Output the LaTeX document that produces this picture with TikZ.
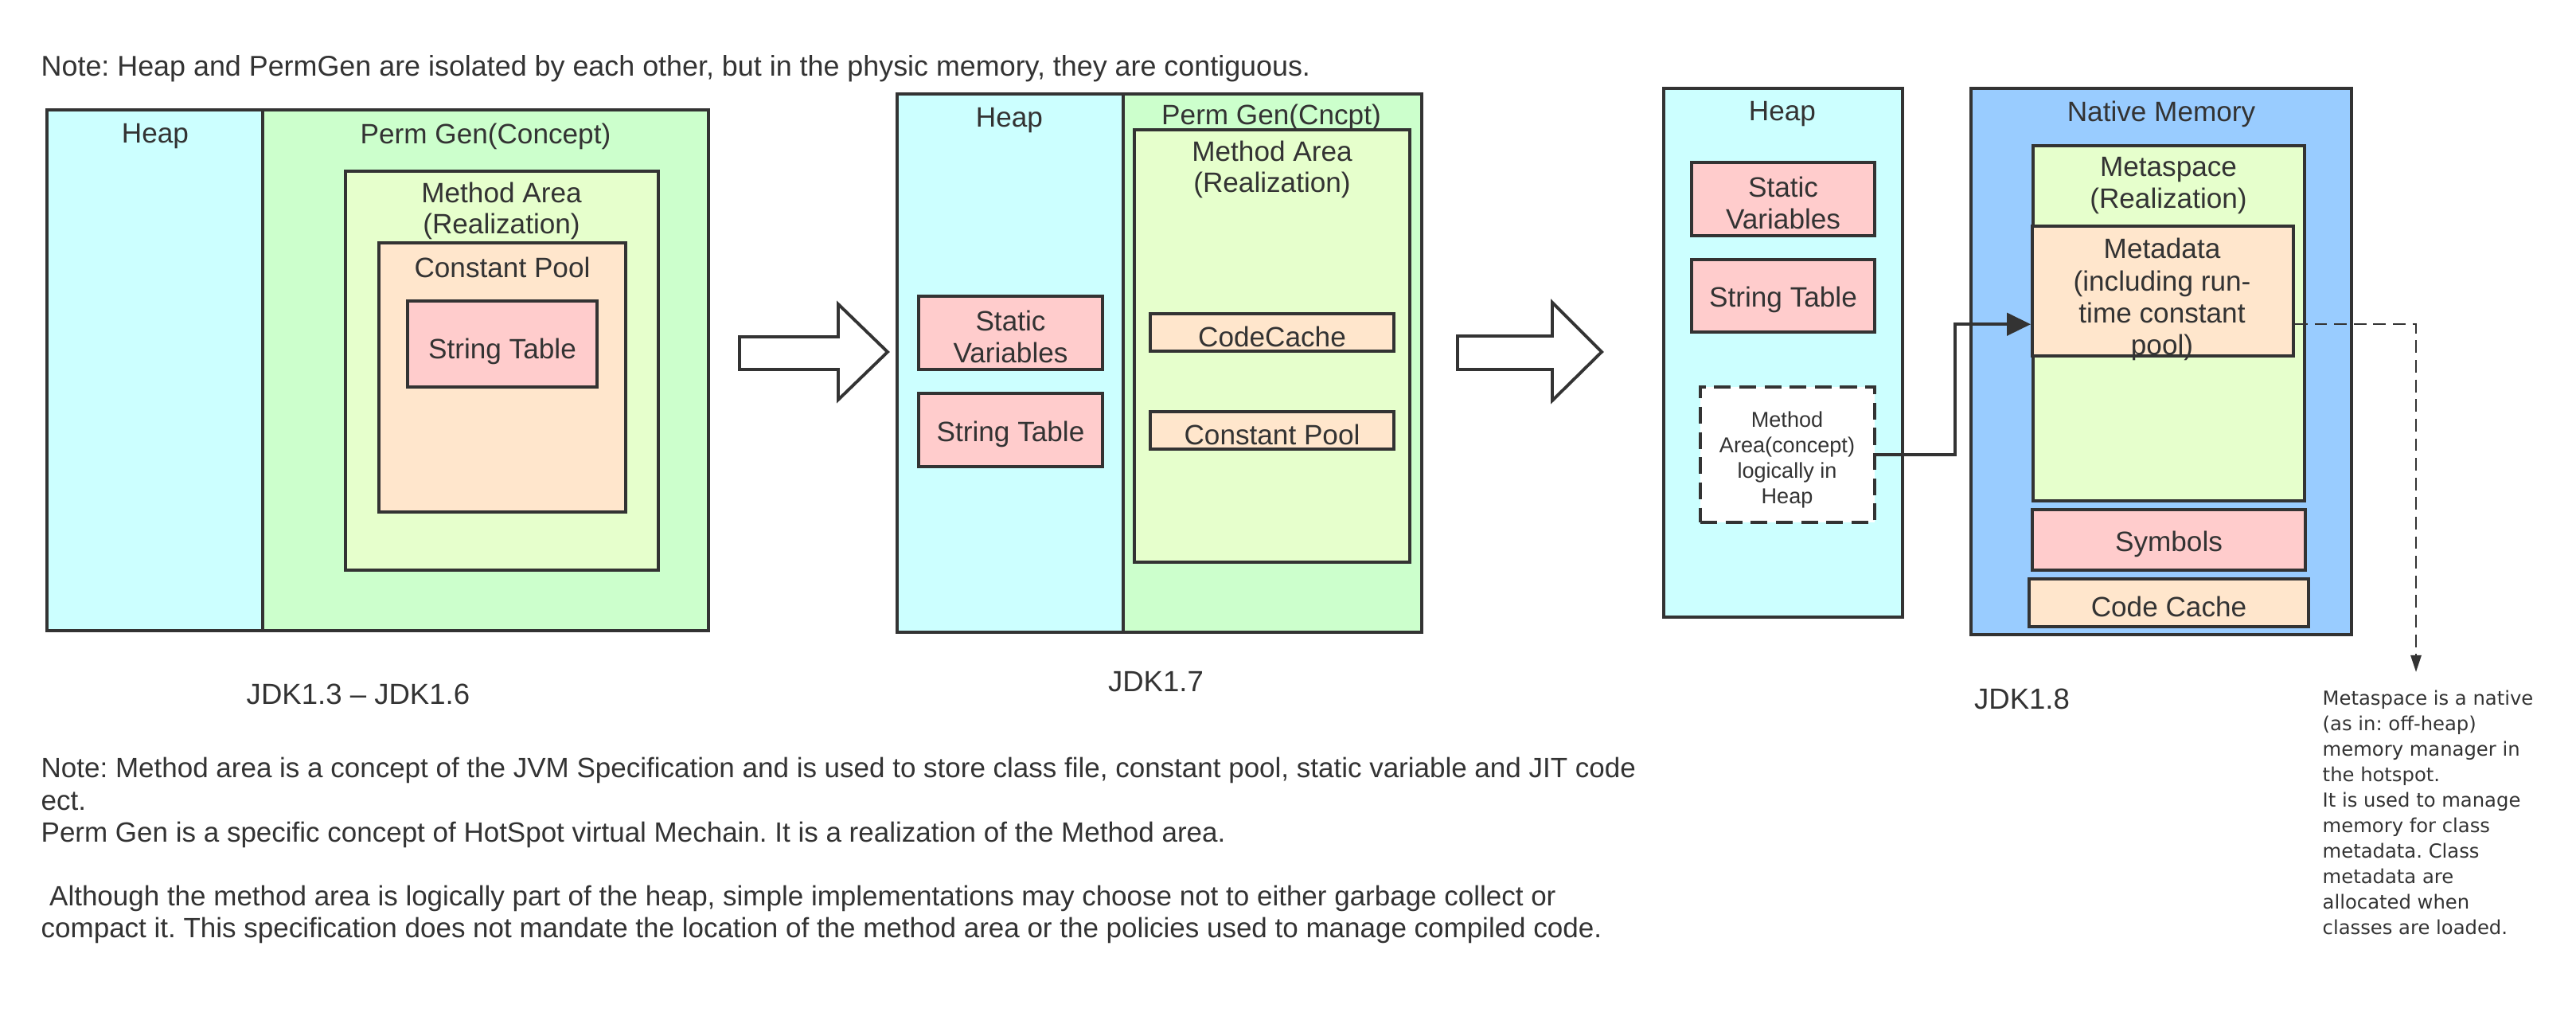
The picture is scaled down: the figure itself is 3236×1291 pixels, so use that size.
\documentclass[tikz,border=0pt]{standalone}
\usepackage{fontspec}
\setmainfont{Liberation Sans}
\newfontfamily\dvs{DejaVu Sans}
\usetikzlibrary{fit,calc,arrows.meta}
\definecolor{ink}{HTML}{333333}
\definecolor{cHeap}{HTML}{CCFFFF}
\definecolor{cPerm}{HTML}{CCFFCC}
\definecolor{cMeth}{HTML}{E6FFCC}
\definecolor{cPool}{HTML}{FFE6CC}
\definecolor{cPink}{HTML}{FFCCCC}
\definecolor{cNat}{HTML}{99CCFF}
\frenchspacing
\begin{document}
\begin{tikzpicture}[x=0.01cm,y=-0.01cm,
  box/.style={draw=ink, line width=1.1pt, inner sep=0pt},
  lbl/.style={text=ink, font=\fontsize{10}{11.3}\selectfont, inner sep=0pt, align=center, yshift=-0.05cm},
  note/.style={text=ink, font=\fontsize{9.95}{11.4}\selectfont, inner sep=0pt, align=left, anchor=west},
  blockarrow/.style={draw=ink, line width=1.1pt, fill=white, line join=miter}]
\useasboundingbox[fill=white] (0,0) rectangle (3236,1291);

% top note
\node[note, font=\fontsize{10.2}{12}\selectfont] (topnote) at (51,86) {Note: Heap and PermGen are isolated by each other, but in the physic memory, they are contiguous.};

% ---------- JDK1.3 - 1.6
\node[box, fill=cHeap, fit={(59,138)(330,792)}] (heap1) {};
\node[box, fill=cPerm, fit={(330,138)(890,792)}] (perm1) {};
\node[lbl] (heap1t) at (195,166) {Heap};
\node[lbl] (perm1t) at (610,166) {Perm Gen(Concept)};
\node[box, fill=cMeth, fit={(434,215)(827,716)}] (ma1) {};
\node[lbl] (ma1t) at (630,260) {Method Area\\(Realization)};
\node[box, fill=cPool, fit={(476,305)(786,643)}] (cp1) {};
\node[lbl] (cp1t) at (631,331) {Constant Pool};
\node[box, fill=cPink, fit={(512,378)(750,486)}] (st1) {};
\node[lbl, yshift=-0.04cm] (st1t) at (st1.center) {String Table};
\node[lbl, yshift=0.05cm, font=\fontsize{10.4}{12}\selectfont] (jdk6) at (450,872) {JDK1.3 – JDK1.6};

% block arrow 1
\draw[blockarrow] (929,423) -- (1053,423) -- (1053,382) -- (1115,442) -- (1053,502) -- (1053,464) -- (929,464) -- cycle;

% ---------- JDK1.7
\node[box, fill=cHeap, fit={(1127,118)(1411,794)}] (heap2) {};
\node[box, fill=cPerm, fit={(1411,118)(1786,794)}] (perm2) {};
\node[lbl] (heap2t) at (1268,146) {Heap};
\node[lbl] (perm2t) at (1597,142) {Perm Gen(Cncpt)};
\node[box, fill=cMeth, fit={(1425,163)(1771,706)}] (ma2) {};
\node[lbl] (ma2t) at (1598,208) {Method Area\\(Realization)};
\node[box, fill=cPink, fit={(1154,372)(1385,464)}] (sv2) {};
\node[lbl] (sv2t) at (sv2.center) {Static\\Variables};
\node[box, fill=cPink, fit={(1154,494)(1385,586)}] (st2) {};
\node[lbl] (st2t) at (st2.center) {String Table};
\node[box, fill=cPool, fit={(1445,394)(1751,441)}] (cc2) {};
\node[lbl] (cc2t) at (cc2.center) {CodeCache};
\node[box, fill=cPool, fit={(1445,517)(1751,564)}] (cp2) {};
\node[lbl] (cp2t) at (cp2.center) {Constant Pool};
\node[lbl, yshift=0.05cm, font=\fontsize{10.4}{12}\selectfont] (jdk7) at (1452,856) {JDK1.7};

% block arrow 2
\draw[blockarrow] (1831,422) -- (1950,422) -- (1950,380) -- (2012,442) -- (1950,503) -- (1950,464) -- (1831,464) -- cycle;

% ---------- JDK1.8
\node[box, fill=cHeap, fit={(2090,111)(2390,775)}] (heap3) {};
\node[lbl] (heap3t) at (2239,138) {Heap};
\node[box, fill=cPink, fit={(2125,204)(2355,296)}] (sv3) {};
\node[lbl] (sv3t) at (sv3.center) {Static\\Variables};
\node[box, fill=cPink, fit={(2125,326)(2355,417)}] (st3) {};
\node[lbl] (st3t) at (st3.center) {String Table};
\node[box, fill=white, dash pattern=on 6pt off 3pt, fit={(2136,486)(2355,656)}] (ma3) {};
\node[lbl, yshift=0.03cm, font=\fontsize{7.7}{9.1}\selectfont] (ma3t) at (2245,575) {Method\\Area(concept)\\logically in\\Heap};

\node[box, fill=cNat, fit={(2476,111)(2954,797)}] (nm) {};
\node[lbl] (nmt) at (2715,138) {Native Memory};
\node[box, fill=cMeth, fit={(2554,183)(2895,629)}] (ms) {};
\node[lbl] (mst) at (2724,228) {Metaspace\\(Realization)};
\node[box, fill=cPool, fit={(2553,284)(2881,447)}] (meta) {};
\node[lbl, font=\fontsize{10}{11.4}\selectfont] (metat) at (2716,371) {Metadata\\(including run-\\time constant\\pool)};
\node[box, fill=cPink, fit={(2553,640)(2896,716)}] (sym) {};
\node[lbl] (symt) at (sym.center) {Symbols};
\node[box, fill=cPool, fit={(2549,727)(2900,787)}] (cc3) {};
\node[lbl] (cc3t) at (cc3.center) {Code Cache};
\node[lbl, yshift=0.05cm, font=\fontsize{10.4}{12}\selectfont] (jdk8) at (2540,878) {JDK1.8};

% connectors
\draw[ink, line width=1.1pt, -{Triangle[length=8.5pt,width=8pt]}]
  (ma3.east) -- ++(99,0) |- ($(meta.north west)!0.75!(meta.south west)$);
\coordinate (dtip) at (3035,844);
\draw[ink, line width=0.6pt, dash pattern=on 4.5pt off 2.5pt, -{Triangle[length=6pt,width=3.8pt]}]
  ($(meta.north east)!0.75!(meta.south east)$) -| (dtip);

\node[text=ink, font=\dvs\fontsize{6.9}{9.1}\selectfont, inner sep=0pt, align=left, anchor=west] (side) at (2917,1020)
  {Metaspace is a native\\(as in: off-heap)\\memory manager in\\the hotspot.\\It is used to manage\\memory for class\\metadata. Class\\metadata are\\allocated when\\classes are loaded.};

% bottom notes
\node[note] (note2) at (51,1008) {Note: Method area is a concept of the JVM Specification and is used to store class file, constant pool, static variable and JIT code\\ect.\\Perm Gen is a specific concept of HotSpot virtual Mechain. It is a realization of the Method area.};
\node[note] (note3) at (51,1148) {\hspace{0.3em}Although the method area is logically part of the heap, simple implementations may choose not to either garbage collect or\\compact it. This specification does not mandate the location of the method area or the policies used to manage compiled code.};
\end{tikzpicture}
\end{document}
